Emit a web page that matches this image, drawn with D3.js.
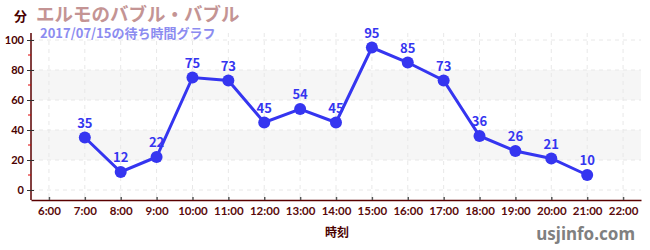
<!DOCTYPE html>
<html>
<head>
<meta charset="utf-8">
<script src="https://cdn.jsdelivr.net/npm/d3@7"></script>
<style>
  body { margin: 0; background: #fff; }
  svg { display: block; font-family: "Noto Sans CJK JP", "Noto Sans", sans-serif; }
</style>
</head>
<body>
<div id="chart"></div>
<script>
// hours shown on the x axis, and the wait times (minutes)
const hours = [6, 7, 8, 9, 10, 11, 12, 13, 14, 15, 16, 17, 18, 19, 20, 21, 22];
const waitHours = [7, 8, 9, 10, 11, 12, 13, 14, 15, 16, 17, 18, 19, 20, 21];
const waitMinutes = [35, 12, 22, 75, 73, 45, 54, 45, 95, 85, 73, 36, 26, 21, 10];
const yTicks = [0, 20, 40, 60, 80, 100];
const yMinor = [10, 30, 50, 70, 90];
const bands = [[20, 40], [60, 80]];

const width = 650, height = 250;
const margin = { top: 33, right: 9, bottom: 50, left: 31 };

const svg = d3.select("#chart").append("svg")
  .attr("width", width)
  .attr("height", height);

const x = d3.scaleLinear()
  .domain([5.5, 22.5])
  .range([margin.left, width - margin.right]);

const y = d3.scaleLinear()
  .domain([0, 100])
  .range([190, 40]);

// gray bands
svg.append("g").selectAll("rect")
  .data(bands)
  .join("rect")
  .attr("x", margin.left)
  .attr("width", width - margin.right - margin.left)
  .attr("y", d => y(d[1]))
  .attr("height", d => y(d[0]) - y(d[1]))
  .attr("fill", "#f6f6f6");

// grid
svg.append("g").selectAll("line")
  .data(yTicks)
  .join("line")
  .attr("x1", margin.left).attr("x2", width - margin.right)
  .attr("y1", d => y(d)).attr("y2", d => y(d))
  .attr("stroke", "#e8e8e8")
  .attr("stroke-dasharray", "4,4");

svg.append("g").selectAll("line")
  .data(hours)
  .join("line")
  .attr("x1", d => x(d)).attr("x2", d => x(d))
  .attr("y1", margin.top).attr("y2", 200)
  .attr("stroke", "#e8e8e8")
  .attr("stroke-dasharray", "4,4");

// x axis
const xAxis = svg.append("g")
  .attr("transform", "translate(0,200)")
  .call(d3.axisBottom(x).tickValues(hours).tickFormat(d => d + ":00").tickSize(4).tickSizeOuter(0));
xAxis.select(".domain").attr("stroke", "#5a0000").attr("stroke-width", 1.5);
xAxis.selectAll(".tick line").attr("stroke", "#555").attr("stroke-width", 1.5).attr("y1", -3).attr("y2", 0);
xAxis.selectAll(".tick text")
  .attr("y", 7)
  .attr("fill", "#5a0a0a")
  .attr("font-size", 11.5)
  .attr("font-weight", "bold")
  .attr("font-family", "Lato, 'Noto Sans', sans-serif");

// y axis
const yAxis = svg.append("g")
  .attr("transform", `translate(${margin.left},0)`)
  .call(d3.axisLeft(y).tickValues(yTicks).tickSize(4).tickSizeOuter(0));
yAxis.select(".domain").attr("stroke", "#5a0000").attr("stroke-width", 1.5)
  .attr("d", `M0,${margin.top}V200`);
yAxis.selectAll(".tick line").attr("stroke", "#333").attr("x1", -4).attr("x2", 3);
yAxis.selectAll(".tick text")
  .attr("x", -7)
  .attr("fill", "#4a0000")
  .attr("font-size", 11)
  .attr("font-weight", "bold")
  .attr("font-family", "Lato, 'Noto Sans', sans-serif");

svg.append("g").selectAll("line")
  .data(yMinor)
  .join("line")
  .attr("x1", margin.left - 3).attr("x2", margin.left)
  .attr("y1", d => y(d)).attr("y2", d => y(d))
  .attr("stroke", "#dd0000");

// line + markers
const pts = waitHours.map((h, i) => ({ h, v: waitMinutes[i] }));
const blue = "#3535f0";

svg.append("path")
  .datum(pts)
  .attr("fill", "none")
  .attr("stroke", blue)
  .attr("stroke-width", 3)
  .attr("d", d3.line().x(d => x(d.h)).y(d => y(d.v)));

svg.append("g").selectAll("circle")
  .data(pts)
  .join("circle")
  .attr("cx", d => x(d.h))
  .attr("cy", d => y(d.v))
  .attr("r", 6)
  .attr("fill", blue);

svg.append("g").selectAll("text")
  .data(pts)
  .join("text")
  .attr("x", d => x(d.h))
  .attr("y", d => y(d.v) - 10)
  .attr("text-anchor", "middle")
  .attr("fill", blue)
  .attr("font-size", 13)
  .attr("font-weight", "bold")
  .text(d => d.v);

// titles
svg.append("text")
  .attr("x", 14).attr("y", 21)
  .attr("fill", "#4a0000")
  .attr("font-size", 13)
  .attr("font-weight", "bold")
  .text("分");

svg.append("text")
  .attr("x", 36).attr("y", 21)
  .attr("fill", "#c49494")
  .attr("font-size", 18.5)
  .attr("font-weight", "bold")
  .text("エルモのバブル・バブル");

svg.append("text")
  .attr("x", 40).attr("y", 38)
  .attr("fill", "#8c8cf0")
  .attr("font-size", 13)
  .attr("font-weight", "bold")
  .text("2017/07/15の待ち時間グラフ");

svg.append("text")
  .attr("x", 337).attr("y", 237)
  .attr("text-anchor", "middle")
  .attr("fill", "#4a0000")
  .attr("font-size", 12)
  .attr("font-weight", "bold")
  .text("時刻");

svg.append("text")
  .attr("x", 635).attr("y", 240)
  .attr("text-anchor", "end")
  .attr("fill", "#808080")
  .attr("font-size", 17)
  .attr("font-weight", "bold")
  .attr("font-family", "'Noto Sans', sans-serif")
  .text("usjinfo.com");
</script>
</body>
</html>
